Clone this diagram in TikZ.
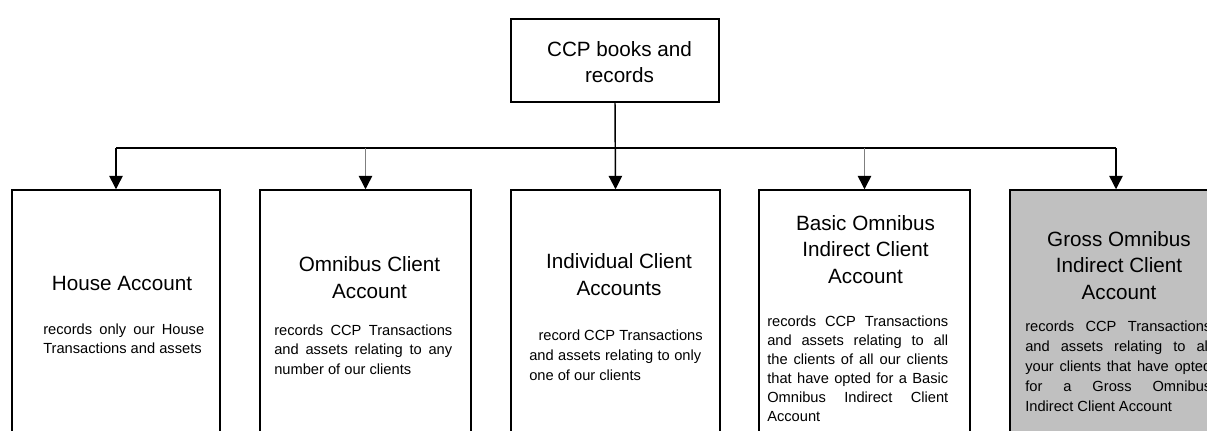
\documentclass[tikz,border=0pt]{standalone}
\usepackage{fontspec}
\setmainfont{Liberation Sans}
\usetikzlibrary{arrows.meta}
\definecolor{boxgray}{HTML}{C0C0C0}
\definecolor{linegray}{HTML}{7F7F7F}
\tikzset{
  acct/.style={draw=black, line width=1.1pt, minimum height=202.5pt, inner sep=0pt},
  headbox/.style={draw=black, line width=1.3pt, minimum width=156pt, minimum height=62.25pt, inner sep=0pt},
  title/.style={anchor=base, align=center, inner sep=0pt, font=\fontsize{15.5}{19.8}\selectfont},
  body/.style={anchor=base west, align=left, inner sep=0pt},
  conn/.style={line width=1.1pt, draw=black},
  conngray/.style={line width=1.1pt, draw=linegray},
  tipped/.style={-{Triangle[width=10pt,length=10pt,color=black]}},
}
\newcommand{\jline}[2]{\makebox[#1][s]{#2}}
\begin{document}
\begin{tikzpicture}[x=0.75pt,y=-0.75pt]
\useasboundingbox (0,0) rectangle (1207,431);
\begin{scope}
\clip (0,0) rectangle (1207,431);
% boxes
\node[headbox] (top) at (615,60.5) {};
\node[acct, minimum width=156pt] (b1) at (116,325) {};
\node[acct, minimum width=158.25pt] (b2) at (365.5,325) {};
\node[acct, minimum width=156.75pt] (b3) at (615.5,325) {};
\node[acct, minimum width=158.25pt] (b4) at (864.5,325) {};
\node[acct, minimum width=159pt, fill=boxgray] (b5) at (1116,325) {};
% connectors
\coordinate (busy) at (0,148);
\draw[conn] (b1.north |- busy) -- (b5.north |- busy);
\draw[conn,tipped] (top.south) -- (b3.north);
\draw[conn,tipped] (b1.north |- busy) -- (b1.north);
\draw[conngray,tipped] (b2.north |- busy) -- (b2.north);
\draw[conngray,tipped] (b4.north |- busy) -- (b4.north);
\draw[conn,tipped] (b5.north |- busy) -- (b5.north);
% texts (base anchor = baseline of the last line)
\node[title] (ttop) at (619.5,83) {CCP books and\\records};

\node[title] (t1) at (122,290) {House Account};
\node[body, font=\fontsize{11}{14.6}\selectfont] (d1) at (43,353.5)
  {\jline{120.75pt}{records only our House}\\Transactions and assets};

\node[title] (t2) at (369.5,298) {Omnibus Client\\Account};
\node[body, font=\fontsize{11}{14.3}\selectfont] (d2) at (274,374)
  {\jline{133.5pt}{records CCP Transactions}\\\jline{133.5pt}{and assets relating to any}\\number of our clients};

\node[title] (t3) at (619,295) {Individual Client\\Accounts};
\node[body, font=\fontsize{11}{15}\selectfont] (d3) at (529,380.5)
  {\hspace*{7pt}record CCP Transactions\\\jline{129pt}{and assets relating to only}\\one of our clients};

\node[title] (t4) at (865.5,283) {Basic Omnibus\\Indirect Client\\Account};
\node[body, font=\fontsize{11}{14.2}\selectfont] (d4) at (767,421.5)
  {\jline{135.75pt}{records CCP Transactions}\\\jline{135.75pt}{and assets relating to all}\\\jline{135.75pt}{the clients of all our clients}\\\jline{135.75pt}{that have opted for a Basic}\\\jline{135.75pt}{Omnibus Indirect Client}\\Account};

\node[title] (t5) at (1119,299) {Gross Omnibus\\Indirect Client\\Account};
\node[body, font=\fontsize{11}{15}\selectfont] (d5) at (1025,411)
  {\jline{139.5pt}{records CCP Transactions}\\\jline{139.5pt}{and assets relating to all}\\\jline{139.5pt}{your clients that have opted}\\\jline{139.5pt}{for a Gross Omnibus}\\Indirect Client Account};
\end{scope}
\end{tikzpicture}
\end{document}
